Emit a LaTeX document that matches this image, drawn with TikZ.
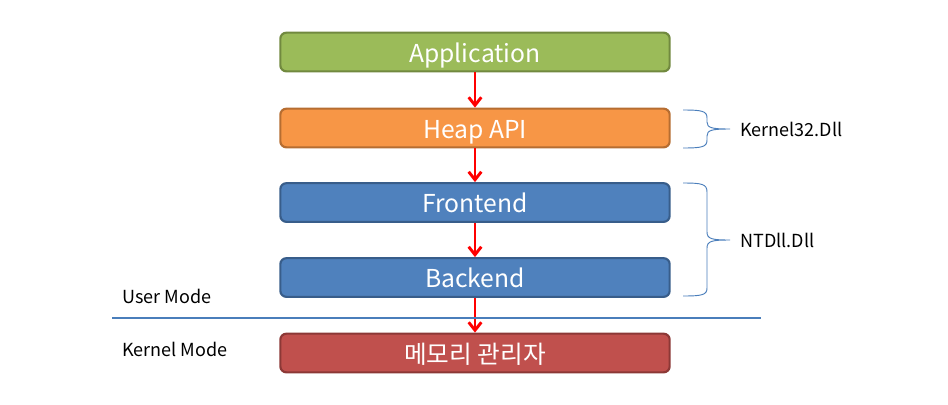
\documentclass[tikz,border=0pt]{standalone}
\usepackage{fontspec}
\setmainfont{Noto Sans CJK KR}
\usetikzlibrary{arrows.meta}
\definecolor{gfill}{HTML}{9BBB59}\definecolor{gdraw}{HTML}{71893F}
\definecolor{ofill}{HTML}{F79646}\definecolor{odraw}{HTML}{B66D31}
\definecolor{bfill}{HTML}{4F81BD}\definecolor{bdraw}{HTML}{385D8A}
\definecolor{rfill}{HTML}{C0504D}\definecolor{rdraw}{HTML}{8C3836}
\definecolor{lineblue}{HTML}{4A7EBB}
\tikzset{
  box/.style={rounded corners=4.5pt, line width=1.6pt, minimum width=292pt, minimum height=29pt, inner sep=0pt, text height=18pt, text depth=3pt, text=white, font=\fontsize{18.5}{22}\selectfont},
  flow/.style={red, line width=2.2pt, -{Straight Barb[length=6pt,width=9.5pt,line width=2.2pt]}},
  brc/.style={lineblue, line width=0.7pt},
  lbl/.style={anchor=west, inner sep=0pt, font=\fontsize{13.5}{16}\selectfont}
}
\begin{document}
\begin{tikzpicture}[x=0.75pt,y=-0.75pt]
\useasboundingbox (0,0) rectangle (948,404);
\node[box, fill=gfill, draw=gdraw] (app) at (475,52) {Application};
\node[box, fill=ofill, draw=odraw] (heap) at (475,128) {Heap API};
\node[box, fill=bfill, draw=bdraw] (front) at (475,202.5) {Frontend};
\node[box, fill=bfill, draw=bdraw] (back) at (475,277.5) {Backend};
\node[box, fill=rfill, draw=rdraw] (mem) at (475,353) {메모리 관리자};
\draw[flow] (app) -- (heap);
\draw[flow] (heap) -- (front);
\draw[flow] (front) -- (back);
\draw[flow] (back) -- (mem);
\coordinate (sepL) at (112,318);
\coordinate (sepR) at (761,318);
\draw[lineblue, line width=2.2pt] (sepL) -- (sepR);
\node[lbl] (um) at (122,296) {User Mode};
\node[lbl] (km) at (122,349) {Kernel Mode};
% braces
\draw[brc] (683,110) .. controls (702,110) and (707,111) .. (707,118) -- (707,122)
  .. controls (707,128) and (712,129) .. (730,129)
  .. controls (712,129) and (707,130) .. (707,136) -- (707,140)
  .. controls (707,147) and (702,148) .. (683,148);
\draw[brc] (683,183) .. controls (702,183) and (707,184) .. (707,192) -- (707,232)
  .. controls (707,239) and (712,240) .. (730,240)
  .. controls (712,240) and (707,241) .. (707,248) -- (707,288)
  .. controls (707,295) and (702,296) .. (683,296);
\node[lbl] (k32) at (740,129) {Kernel32.Dll};
\node[lbl] (ntd) at (740,240) {NTDll.Dll};
\end{tikzpicture}
\end{document}
